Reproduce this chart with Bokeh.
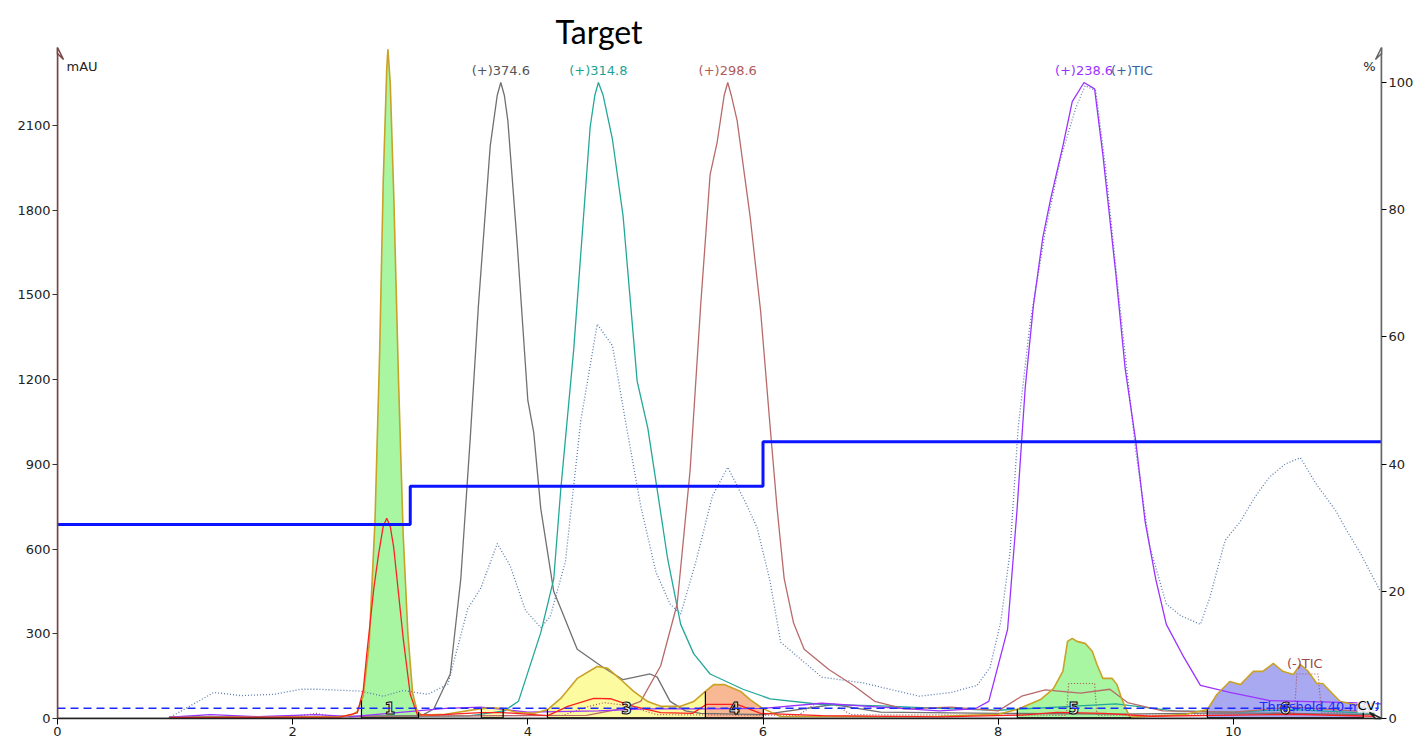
import numpy as np
from bokeh.plotting import figure
from bokeh.models import Range1d, LinearAxis, FixedTicker, Label, Arrow, VeeHead, Span
from bokeh.embed import file_html
from bokeh.resources import INLINE
from bokeh.core.properties import value

# ---------------- data ----------------
X_END = 11.26
Y_TOP = 2376
P_TOP = 105.5
THRESH = 36

MAU_TICKS = [0, 300, 600, 900, 1200, 1500, 1800, 2100]
PCT_TICKS = [0, 20, 40, 60, 80, 100]
TIME_TICKS = [0, 2, 4, 6, 8, 10]

# UV chromatogram (mAU)
UV_T = [0.95, 1.5, 2.0, 2.4, 2.5, 2.55, 2.6, 2.65, 2.7, 2.74, 2.77, 2.8, 2.81, 2.83, 2.86, 2.9, 2.94, 2.98,
        3.02, 3.06, 3.1, 3.3, 3.6, 3.7, 3.79, 3.9, 4.05, 4.17, 4.28, 4.42, 4.59, 4.68, 4.79, 4.9, 5.02, 5.13,
        5.3, 5.41, 5.51, 5.58, 5.67, 5.81, 5.89, 6.0, 6.15, 6.5, 7.0, 7.5, 8.0, 8.16, 8.36, 8.47, 8.55, 8.59,
        8.63, 8.67, 8.74, 8.8, 8.84, 8.89, 8.97, 9.01, 9.05, 9.09, 9.12, 9.3, 9.6, 9.78, 9.86, 9.97, 10.06,
        10.17, 10.25, 10.34, 10.42, 10.51, 10.57, 10.63, 10.71, 10.76, 10.84, 10.91, 11.02, 11.1, 11.19]
UV_V = [3, 4, 5, 6, 12, 25, 80, 260, 700, 1300, 1900, 2300, 2370, 2250, 1850, 1200, 650, 300,
        90, 25, 12, 15, 35, 38, 35, 22, 18, 32, 71, 142, 184, 178, 138, 96, 60, 43,
        43, 60, 96, 120, 120, 96, 67, 35, 7, 8, 6, 8, 15, 32, 67, 106, 167, 273,
        284, 273, 266, 238, 191, 142, 142, 120, 71, 32, 5, 8, 15, 32, 85, 131, 120,
        167, 167, 195, 167, 156, 191, 170, 124, 124, 89, 60, 50, 43, 32]

# second UV trace (mAU)
RED_T = [0.95, 2.4, 2.55, 2.6, 2.63, 2.69, 2.73, 2.77, 2.8, 2.83, 2.86, 2.94, 3.0, 3.06, 3.2, 3.6, 3.79,
         4.17, 4.34, 4.56, 4.7, 4.9, 5.13, 5.4, 5.52, 5.78, 5.98, 6.5, 7.5, 8.2, 8.5, 8.9, 9.3, 10.0, 10.5, 11.2]
RED_V = [3, 5, 20, 100, 227, 461, 580, 680, 709, 680, 603, 284, 85, 14, 12, 21, 21,
         10, 43, 71, 70, 43, 21, 18, 50, 50, 18, 10, 6, 12, 22, 18, 8, 12, 15, 8]

# MS traces (%)
GRAY_T = [0.95, 2.5, 3.1, 3.2, 3.34, 3.43, 3.51, 3.58, 3.68, 3.74, 3.77, 3.80, 3.83, 3.91, 4.0, 4.05, 4.11,
          4.22, 4.28, 4.42, 4.62, 4.81, 5.04, 5.10, 5.21, 5.34, 5.47, 6.0, 6.6, 7.0, 8.0, 9.0, 10.0, 11.2]
GRAY_V = [0.2, 0.3, 0.5, 1.5, 7, 22, 44, 65, 90, 98, 100, 98, 94, 74.5, 50, 45, 33,
          20, 17.3, 10.9, 8.3, 6.1, 7, 6.5, 2.7, 1.2, 0.8, 0.6, 2.2, 1.0, 0.8, 0.7, 0.9, 0.6]

TEAL_T = [0.95, 3.5, 3.8, 3.92, 4.11, 4.22, 4.28, 4.39, 4.47, 4.53, 4.57, 4.6, 4.64, 4.72, 4.81, 4.93,
          5.02, 5.10, 5.19, 5.30, 5.41, 5.55, 5.83, 6.06, 6.5, 7.0, 7.5, 8.0, 8.5, 9.0, 9.5, 10.0, 10.5, 11.2]
TEAL_V = [0.2, 0.4, 1.2, 2.7, 13.5, 21.9, 36, 58, 78, 93, 98, 100, 98, 91, 79, 53,
          45.7, 36, 25, 14.8, 10.2, 7, 4.6, 3.1, 2.2, 2.0, 1.6, 1.3, 1.8, 2.3, 1.2, 1.0, 1.4, 0.8]

ROSY_T = [0.95, 4.5, 4.79, 4.96, 5.13, 5.27, 5.38, 5.47, 5.55, 5.61, 5.67, 5.70, 5.73, 5.78, 5.89, 5.98,
          6.06, 6.12, 6.18, 6.26, 6.35, 6.56, 6.77, 6.95, 7.2, 7.6, 8.0, 8.2, 8.4, 8.7, 8.95, 9.1, 9.4,
          10.0, 10.5, 11.2]
ROSY_V = [0.2, 0.5, 1.5, 2.7, 8.3, 18, 39, 65, 85.5, 90.6, 98, 100, 98, 94, 79, 64,
          46, 33, 22, 15, 10.9, 7.7, 5.2, 2.7, 1.5, 1.8, 1.2, 3.5, 4.5, 4.0, 4.6, 2.5, 1.2,
          1.0, 1.8, 1.0]

PURPLE_T = [0.95, 1.3, 1.7, 2.2, 2.5, 3.3, 3.6, 4.0, 4.6, 5.0, 5.5, 6.0, 6.5, 7.0, 7.5, 7.8, 7.92, 8.08,
            8.16, 8.23, 8.30, 8.38, 8.45, 8.55, 8.63, 8.73, 8.82, 8.89, 9.0, 9.08, 9.17, 9.25, 9.34, 9.43,
            9.58, 9.72, 9.97, 10.31, 11.0, 11.26]
PURPLE_V = [0.2, 0.6, 0.3, 0.6, 0.3, 1.6, 1.8, 1.0, 1.2, 1.5, 1.5, 1.6, 2.4, 1.8, 1.2, 1.5, 2.7, 14,
            32.7, 52, 65, 75.7, 82, 90, 97, 100, 99, 88.7, 70, 55, 43.6, 30.9, 21.9, 14.8,
            9.6, 5.2, 4.1, 2.8, 2.5, 2.3]

TIC_T = [0.94, 1.33, 1.56, 1.84, 2.07, 2.21, 2.58, 2.77, 2.94, 3.15, 3.32, 3.49, 3.60, 3.74, 3.85, 3.98,
         4.11, 4.19, 4.32, 4.45, 4.59, 4.72, 4.83, 4.96, 5.09, 5.21, 5.30, 5.43, 5.57, 5.70, 5.85, 5.95,
         6.06, 6.15, 6.5, 6.85, 7.33, 7.6, 7.82, 7.93, 8.02, 8.10, 8.17, 8.27, 8.40, 8.53, 8.66, 8.74,
         8.83, 8.91, 9.04, 9.17, 9.29, 9.43, 9.55, 9.72, 9.80, 9.93, 10.06, 10.19, 10.31, 10.44, 10.57,
         10.7, 10.87, 10.95, 11.08, 11.25]
TIC_V = [0, 4.1, 3.6, 3.8, 4.6, 4.6, 4.3, 3.5, 4.4, 3.8, 5.4, 17.3, 20.5, 27.5, 24, 17,
         14.3, 16, 24.7, 46.8, 62, 58.6, 46.8, 33.4, 23, 18, 16.4, 24.7, 35, 39.5, 34, 30,
         21.6, 12, 6.5, 5.6, 3.5, 4.1, 5.2, 8, 15, 26, 45.7, 62, 76.5, 88, 96, 99.5,
         98.7, 87, 64, 42, 27, 18, 16.2, 14.8, 19, 28, 31, 35, 38, 40, 41,
         37, 32.7, 30, 26, 20]

NTIC_T = [0.95, 2.0, 2.2, 2.35, 4.3, 4.5, 4.65, 4.85, 5.1, 6.3, 6.45, 6.6, 6.75, 8.58, 8.6, 8.82, 8.84,
          10.0, 10.52, 10.54, 10.72, 10.75, 11.2]
NTIC_V = [0.1, 0.3, 0.8, 0.3, 0.5, 1.8, 2.5, 2.0, 0.6, 0.5, 2.4, 2.3, 0.6, 0.5, 5.5, 5.5, 0.5,
          0.6, 1.0, 7.0, 7.0, 1.0, 0.8]

# cone voltage step (% axis)
CV_T = [0, 3.0, 6.0, X_END]
CV_V = [30.5, 36.5, 43.5, 43.5]

# integrated peaks
PEAK_START = [2.585, 3.605, 4.167, 5.51, 8.163, 9.779]
PEAK_END = [3.07, 3.79, 5.51, 6.003, 9.124, 11.105]
PEAK_NAME = ["1", "", "3", "4", "5", "6"]
PEAK_FILL = ["#a8f5a2", "#fcfab0", "#fdfba0", "#f8b894", "#a8f5a2", "#a9a9f2"]

TRACE_LABELS = ["(+)374.6", "(+)314.8", "(+)298.6", "(+)238.6"]

# ---------------- figure ----------------
p = figure(width=1420, height=746, x_range=Range1d(0, X_END), y_range=Range1d(0, Y_TOP),
           output_backend="svg", toolbar_location=None,
           min_border_left=57, min_border_right=39, min_border_top=47, min_border_bottom=28)
p.extra_y_ranges = {"pct": Range1d(0, P_TOP)}
p.outline_line_color = None
p.xgrid.visible = False
p.ygrid.visible = False
p.background_fill_color = "white"

p.title.text = "Target"
p.title.text_font = "Lato"
p.title.text_font_size = "32px"
p.title.text_font_style = "normal"
p.title.text_color = "black"
p.title.align = "left"
p.title.offset = 498
p.title.standoff = -6

FONT = "DejaVu Sans"

ya = p.yaxis[0]
ya.ticker = FixedTicker(ticks=MAU_TICKS)
ya.minor_tick_line_color = None
ya.major_tick_in = 0
ya.major_tick_out = 5
ya.major_tick_line_color = "#333333"
ya.axis_line_color = "#7a4545"
ya.axis_line_width = 1.5
ya.major_label_text_font = FONT
ya.major_label_text_font_size = "13px"
ya.major_label_text_color = "#222222"
ya.major_label_standoff = 2

xa = p.xaxis[0]
xa.ticker = FixedTicker(ticks=TIME_TICKS)
xa.minor_tick_line_color = None
xa.major_tick_in = 0
xa.major_tick_out = 6
xa.axis_line_color = "#222222"
xa.axis_line_width = 1.5
xa.major_label_text_font = FONT
xa.major_label_text_font_size = "13px"
xa.major_label_text_color = "#222222"
xa.major_label_standoff = 2

ra = LinearAxis(y_range_name="pct", ticker=FixedTicker(ticks=PCT_TICKS))
ra.minor_tick_line_color = None
ra.major_tick_in = 0
ra.major_tick_out = 5
ra.axis_line_color = "#666666"
ra.axis_line_width = 1.5
ra.major_label_text_font = FONT
ra.major_label_text_font_size = "13px"
ra.major_label_text_color = "#222222"
ra.major_label_standoff = 2
p.add_layout(ra, "right")

uv_t = np.array(UV_T)
uv_v = np.array(UV_V)

# peak fills
for t0, t1, col in zip(PEAK_START, PEAK_END, PEAK_FILL):
    m = (uv_t > t0) & (uv_t < t1)
    xs = np.concatenate([[t0], uv_t[m], [t1]])
    ys = np.concatenate([[np.interp(t0, uv_t, uv_v)], uv_v[m], [np.interp(t1, uv_t, uv_v)]])
    p.varea(x=xs, y1=np.zeros_like(xs), y2=ys, fill_color=col, fill_alpha=1.0)

# MS traces
p.line(TIC_T, TIC_V, y_range_name="pct", line_color="#5a7db0", line_width=1.3, line_dash="1 2")
p.line(NTIC_T, NTIC_V, y_range_name="pct", line_color="#a85050", line_width=1.2, line_dash="1 2")
p.line(GRAY_T, GRAY_V, y_range_name="pct", line_color="#707070", line_width=1.3)
p.line(TEAL_T, TEAL_V, y_range_name="pct", line_color="#22a898", line_width=1.3)
p.line(ROSY_T, ROSY_V, y_range_name="pct", line_color="#b86a6a", line_width=1.3)
p.line(PURPLE_T, PURPLE_V, y_range_name="pct", line_color="#9a33ff", line_width=1.3)

# UV traces
p.line(UV_T, UV_V, line_color="#c9a227", line_width=1.6)
p.line(RED_T, RED_V, line_color="#ff2020", line_width=1.3)

# peak boundaries
bounds = sorted(set(PEAK_START + PEAK_END))
p.segment(x0=bounds, y0=[0] * len(bounds), x1=bounds,
          y1=[float(np.interp(b, uv_t, uv_v)) for b in bounds], line_color="black", line_width=1.2)
p.segment(x0=PEAK_START, y0=[0] * len(PEAK_START), x1=PEAK_END, y1=[0] * len(PEAK_END),
          line_color="black", line_width=2.5)

# CV step and threshold
p.step(CV_T, CV_V, mode="after", y_range_name="pct", line_color="#0a14ff", line_width=3)
p.add_layout(Span(location=THRESH, dimension="width", line_color="#1a2aff", line_width=1.5,
                  line_dash="8 5"))

# peak numbers
lab_x = [(a + b) / 2 for a, b, n in zip(PEAK_START, PEAK_END, PEAK_NAME) if n]
lab_t = [n for n in PEAK_NAME if n]
p.text(x=lab_x, y=[THRESH] * len(lab_x), text=lab_t, text_align="center", text_baseline="middle",
       text_font=value(FONT), text_font_size="15px", text_font_style="bold",
       text_color="#f0f0f0", text_outline_color="black")

# trace labels above their maxima
tr_x = [GRAY_T[int(np.argmax(GRAY_V))], TEAL_T[int(np.argmax(TEAL_V))],
        ROSY_T[int(np.argmax(ROSY_V))], PURPLE_T[int(np.argmax(PURPLE_V))]]
tr_c = ["#555555", "#1aa394", "#b05a5a", "#9a33ff"]
for x, t, c in zip(tr_x, TRACE_LABELS, tr_c):
    p.add_layout(Label(x=x, y=100, y_range_name="pct", text=t, text_align="center",
                       text_baseline="bottom", y_offset=4, text_font=FONT, text_font_size="13px",
                       text_color=c))
p.add_layout(Label(x=PURPLE_T[int(np.argmax(PURPLE_V))], y=100, y_range_name="pct", text="(+)TIC",
                   text_align="left", text_baseline="bottom", x_offset=27, y_offset=4, text_font=FONT,
                   text_font_size="13px", text_color="#3a5f9f"))
p.add_layout(Label(x=NTIC_T[int(np.argmax(NTIC_V))], y=max(NTIC_V), y_range_name="pct", text="(-)TIC",
                   text_align="center", text_baseline="bottom", x_offset=8, y_offset=3, text_font=FONT,
                   text_font_size="13px", text_color="#a04848"))

# threshold text
p.add_layout(Label(x=X_END, y=THRESH, text="Threshold 40 mAU", text_align="right",
                   text_baseline="alphabetic", x_offset=-2, y_offset=2, text_font=FONT,
                   text_font_size="13px", text_color="#1a2aff"))
p.add_layout(Label(x=X_END, y=THRESH, text="CV", text_align="right", text_baseline="middle",
                   x_offset=-6, y_offset=3, text_font=FONT, text_font_size="13px", text_color="black",
                   background_fill_color="white", background_fill_alpha=0.85))

# axis titles
p.add_layout(Label(x=0, y=Y_TOP, text="mAU", text_align="left", text_baseline="middle", x_offset=9,
                   y_offset=-19, text_font=FONT, text_font_size="13px", text_color="#222222"))
p.add_layout(Label(x=X_END, y=Y_TOP, text="%", text_align="right", text_baseline="middle", x_offset=-6,
                   y_offset=-19, text_font=FONT, text_font_size="13px", text_color="#222222"))

# axis arrows
p.add_layout(Arrow(end=VeeHead(size=12, line_color="#7a4545", line_width=1.5, fill_alpha=0),
                   x_start=0, y_start=0, x_end=0, y_end=Y_TOP, line_color="#7a4545", line_width=1.5))
p.add_layout(Arrow(end=VeeHead(size=12, line_color="#666666", line_width=1.5, fill_alpha=0),
                   x_start=X_END, y_start=0, x_end=X_END, y_end=Y_TOP, line_color="#666666",
                   line_width=1.5))
p.add_layout(Arrow(end=VeeHead(size=12, line_color="#222222", line_width=1.5, fill_alpha=0),
                   x_start=0, y_start=0, x_end=X_END, y_end=0, line_color="#222222", line_width=1.5))

open("out.html", "w").write(file_html(p, INLINE))
